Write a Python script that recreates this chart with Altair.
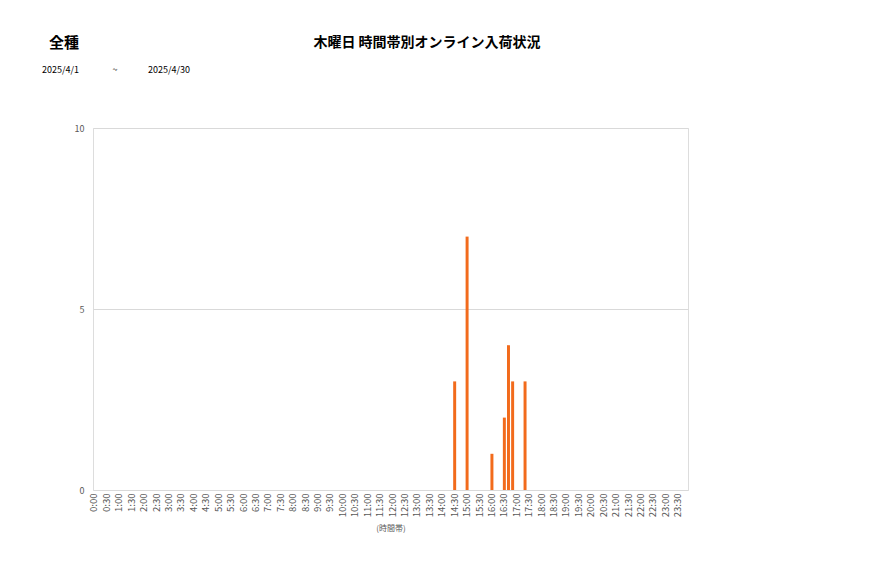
import altair as alt
import pandas as pd

# 10-minute time slots (categories)
slots = [f"{h}:{m:02d}" for h in range(24) for m in range(0, 60, 10)]
# axis tick labels shown every 30 minutes
axis_labels = [f"{h}:{m:02d}" for h in range(24) for m in (0, 30)]
# non-zero slots
bar_times = ["14:30", "15:00", "16:00", "16:30", "16:40", "16:50", "17:20"]
bar_counts = [3, 7, 1, 2, 4, 3, 3]
y_ticks = [0, 5, 10]

lookup = dict(zip(bar_times, bar_counts))
df = pd.DataFrame({"slot": slots, "count": [lookup.get(s, 0) for s in slots]})

FONT = "Noto Sans CJK JP"
GRAY = "#595959"

bars = alt.Chart(df).mark_bar(color="#F26B1C").encode(
    x=alt.X(
        "slot:N",
        sort=slots,
        scale=alt.Scale(paddingInner=0.28, paddingOuter=0),
        axis=alt.Axis(
            values=axis_labels,
            labelAngle=270,
            ticks=False,
            domain=False,
            labelFontSize=9.5,
            labelColor=GRAY,
            labelPadding=3,
            labelFont=FONT,
            title="(時間帯)",
            titleFont=FONT,
            titleFontSize=8,
            titleFontWeight="normal",
            titleColor=GRAY,
            titlePadding=8,
        ),
    ),
    y=alt.Y(
        "count:Q",
        scale=alt.Scale(domain=[0, 10]),
        axis=alt.Axis(
            values=y_ticks,
            ticks=False,
            domain=False,
            gridColor="#d9d9d9",
            labelFontSize=9,
            labelColor=GRAY,
            labelFont=FONT,
            labelPadding=9,
            title=None,
        ),
    ),
    tooltip=["slot", "count"],
)

def label(text, x, y, size, weight="normal", align="left", color="#000000"):
    return alt.Chart(pd.DataFrame({"t": [text]})).mark_text(
        align=align, baseline="middle", fontSize=size, fontWeight=weight,
        font=FONT, color=color,
    ).encode(text="t:N", x=alt.value(x), y=alt.value(y))

texts = [
    label("全種", -29, -85, 15, "bold", "center"),
    label("木曜日 時間帯別オンライン入荷状況", 334, -85, 14, "bold", "center"),
    label("2025/4/1", -51, -58, 9),
    label("~", 22, -58, 9, align="center"),
    label("2025/4/30", 55, -58, 9),
]

chart = alt.layer(bars, *texts).properties(
    width=595,
    height=362,
    autosize=alt.AutoSizeParams(type="none"),
    padding={"left": 85, "top": 120, "right": 181, "bottom": 80},
).configure_view(stroke="#d9d9d9").configure(background="white")

chart.save("out.html", embed_options={"renderer": "svg", "actions": False})
